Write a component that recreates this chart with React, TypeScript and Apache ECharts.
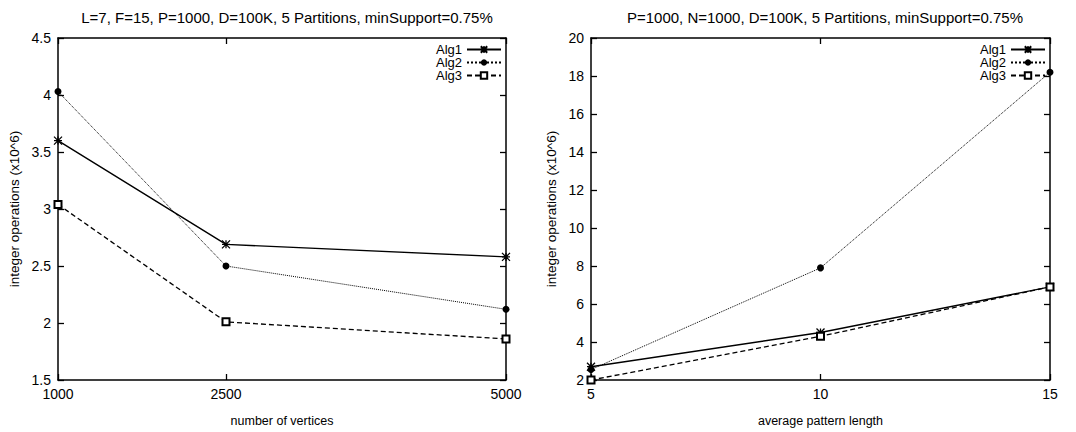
import React, { useEffect, useRef } from "react";
import * as echarts from "echarts";

const leftTitle = "L=7, F=15, P=1000, D=100K, 5 Partitions, minSupport=0.75%";
const rightTitle = "P=1000, N=1000, D=100K, 5 Partitions, minSupport=0.75%";
const seriesNames = ["Alg1", "Alg2", "Alg3"];
const vertices = [1000, 2500, 5000];
const leftAlg1 = [3.6, 2.69, 2.58];
const leftAlg2 = [4.03, 2.5, 2.12];
const leftAlg3 = [3.04, 2.01, 1.86];
const patternLengths = [5, 10, 15];
const rightAlg1 = [2.7, 4.5, 6.9];
const rightAlg2 = [2.55, 7.9, 18.2];
const rightAlg3 = [2.0, 4.3, 6.9];
const yAxisName = "integer operations (x10^6)";
const leftXName = "number of vertices";
const rightXName = "average pattern length";

const FONT = "Liberation Sans";
const BLACK = "#000";

const STAR = "path://M0,0L10,10M10,0L0,10M5,0L5,10M0,5L10,5";

function pairs(xs: number[], ys: number[]) {
  return xs.map((x, i) => [x, ys[i]]);
}

const styles = [
  { symbol: STAR, symbolSize: 8, lineType: "solid", lineWidth: 1.4, fill: BLACK, bw: 1.3 },
  { symbol: "circle", symbolSize: 7, lineType: "dotted", lineWidth: 1, fill: BLACK, bw: 0 },
  { symbol: "emptyRect", symbolSize: 7, lineType: [5, 3], lineWidth: 1.3, fill: BLACK, bw: 1 },
];

function makeSeries(name: string, idx: number, data: number[][], axis: number) {
  const s = styles[idx];
  return {
    name,
    type: "line",
    xAxisIndex: axis,
    yAxisIndex: axis,
    data,
    symbol: s.symbol,
    symbolSize: s.symbolSize,
    showAllSymbol: true,
    lineStyle: { color: BLACK, width: s.lineWidth, type: s.lineType },
    itemStyle: { color: s.fill, borderColor: BLACK, borderWidth: s.bw },
    emphasis: { disabled: true },
    z: 3,
  };
}

const plain = (v: number) => String(v);

function axisCommon() {
  return {
    axisLine: { show: true, lineStyle: { color: BLACK, width: 1.5 } },
    splitLine: { show: false },
    axisLabel: { color: BLACK, fontSize: 14, fontFamily: FONT, margin: 7, formatter: plain },
    axisTick: { show: true, inside: true, length: 6, lineStyle: { color: BLACK, width: 1.3 } },
    nameTextStyle: { color: BLACK, fontSize: 12.5, fontFamily: FONT },
  };
}

export default function App() {
  const ref = useRef<HTMLDivElement>(null);
  useEffect(() => {
    if (!ref.current) return;
    const chart = echarts.init(ref.current, undefined, { renderer: "svg" });
    const xAxes: any[] = [];
    const yAxes: any[] = [];
    xAxes.push({
      ...axisCommon(),
      type: "value",
      gridIndex: 0,
      position: "bottom",
      min: 1000,
      max: 5000,
      axisTick: { ...axisCommon().axisTick, customValues: vertices },
      axisLabel: { ...axisCommon().axisLabel, customValues: vertices },
      name: leftXName,
      nameLocation: "middle",
      nameGap: 34,
    });
    xAxes.push({
      ...axisCommon(),
      type: "value",
      gridIndex: 1,
      position: "bottom",
      min: 5,
      max: 15,
      interval: 5,
      name: rightXName,
      nameLocation: "middle",
      nameGap: 34,
    });
    xAxes.push({
      ...axisCommon(),
      type: "value",
      gridIndex: 0,
      position: "top",
      min: 1000,
      max: 5000,
      axisTick: { ...axisCommon().axisTick, customValues: vertices },
      axisLabel: { show: false },
    });
    xAxes.push({
      ...axisCommon(),
      type: "value",
      gridIndex: 1,
      position: "top",
      min: 5,
      max: 15,
      interval: 5,
      axisLabel: { show: false },
    });
    yAxes.push({
      ...axisCommon(),
      type: "value",
      gridIndex: 0,
      position: "left",
      min: 1.5,
      max: 4.5,
      interval: 0.5,
      name: yAxisName,
      nameLocation: "middle",
      nameGap: 37,
      nameTextStyle: { color: BLACK, fontSize: 13.5, fontFamily: FONT },
    });
    yAxes.push({
      ...axisCommon(),
      type: "value",
      gridIndex: 1,
      position: "left",
      min: 2,
      max: 20,
      interval: 2,
      name: yAxisName,
      nameLocation: "middle",
      nameGap: 33,
      nameTextStyle: { color: BLACK, fontSize: 13.5, fontFamily: FONT },
    });
    yAxes.push({
      ...axisCommon(),
      type: "value",
      gridIndex: 0,
      position: "right",
      min: 1.5,
      max: 4.5,
      interval: 0.5,
      axisLabel: { show: false },
    });
    yAxes.push({
      ...axisCommon(),
      type: "value",
      gridIndex: 1,
      position: "right",
      min: 2,
      max: 20,
      interval: 2,
      axisLabel: { show: false },
    });

    const leftData = [leftAlg1, leftAlg2, leftAlg3];
    const rightData = [rightAlg1, rightAlg2, rightAlg3];
    const series: any[] = [];
    seriesNames.forEach((n, i) => series.push(makeSeries(n, i, pairs(vertices, leftData[i]), 0)));
    seriesNames.forEach((n, i) => series.push(makeSeries(n, i, pairs(patternLengths, rightData[i]), 1)));

    const legendBase = {
      data: seriesNames,
      orient: "vertical",
      align: "right",
      itemWidth: 34,
      itemHeight: 8,
      itemGap: 0,
      padding: 0,
      selectedMode: false,
      textStyle: { color: BLACK, fontSize: 13, fontFamily: FONT, lineHeight: 12.5 },
    };

    chart.setOption({
      animation: false,
      backgroundColor: "#fff",
      title: [
        {
          text: leftTitle,
          left: 282,
          top: 5,
          textAlign: "center",
          textStyle: { color: BLACK, fontSize: 15, fontWeight: "normal", fontFamily: FONT },
        },
        {
          text: rightTitle,
          left: 820,
          top: 5,
          textAlign: "center",
          textStyle: { color: BLACK, fontSize: 15, fontWeight: "normal", fontFamily: FONT },
        },
      ],
      legend: [
        { ...legendBase, right: 1076 - 506 + 4, top: 43 },
        { ...legendBase, right: 1076 - 1050 + 4, top: 43 },
      ],
      grid: [
        { left: 58, right: 1076 - 506, top: 38, bottom: 432 - 383 },
        { left: 591, right: 1076 - 1050, top: 38, bottom: 432 - 383 },
      ],
      xAxis: xAxes,
      yAxis: yAxes,
      series,
    });
    return () => chart.dispose();
  }, []);
  return (
    <div
      ref={ref}
      style={{ position: "fixed", left: 0, top: 0, width: 1076, height: 432, background: "#fff" }}
    />
  );
}
